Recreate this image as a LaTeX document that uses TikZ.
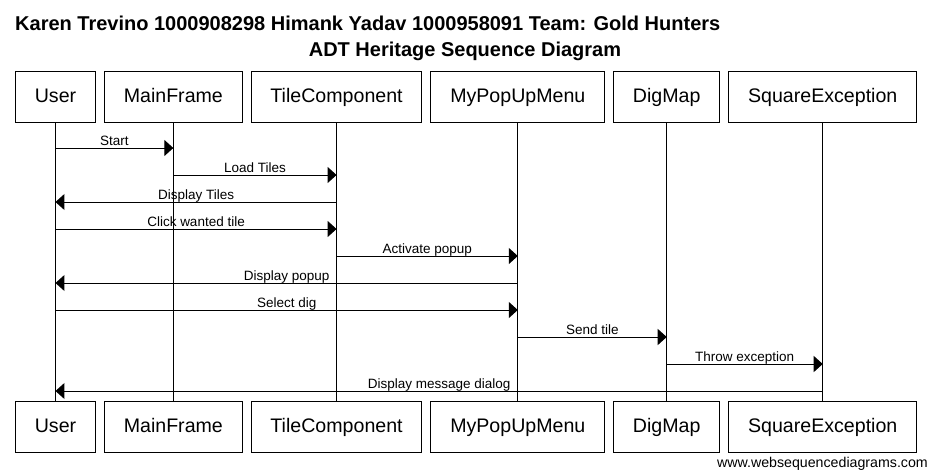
\documentclass[tikz,border=0pt]{standalone}
\usepackage{fontspec}
\setmainfont{Liberation Sans}
\usetikzlibrary{arrows.meta,positioning}

\tikzset{
  actor/.style={draw, line width=1pt, minimum height=51pt, inner xsep=19.3pt,
    text height=15pt, text depth=3pt, font=\fontsize{19.6}{22}\selectfont},
  life/.style={line width=1pt},
  msg/.style={line width=1pt, -{Triangle[length=9pt,width=16pt]}},
  msglabel/.style={anchor=base, yshift=3pt, inner sep=0pt, font=\fontsize{13.5}{15}\selectfont}
}

\begin{document}
\begin{tikzpicture}[x=1pt,y=-1pt,node distance=8pt]
  \useasboundingbox (0,0) rectangle (929,474);

  % title
  \node[anchor=base west, inner sep=0pt, font=\bfseries\fontsize{20}{24}\selectfont] (title) at (15,30)
    {Karen Trevino 1000908298 Himank Yadav 1000958091 Team: Gold Hunters};
  \node[anchor=base, inner sep=0pt, font=\bfseries\fontsize{20}{24}\selectfont] (subtitle) at (465,56)
    {ADT Heritage Sequence Diagram};

  % participants, top
  \node[actor, anchor=west] (user) at (15,96.5) {User};
  \node[actor] (main)  [right=of user]  {MainFrame};
  \node[actor] (tile)  [right=of main]  {TileComponent};
  \node[actor] (popup) [right=of tile]  {MyPopUpMenu};
  \node[actor] (dig)   [right=of popup] {DigMap};
  \node[actor] (sqex)  [right=of dig]   {SquareException};

  % participants, bottom
  \node[actor, anchor=west] (user-b) at (15,426.5) {User};
  \node[actor] (main-b)  [right=of user-b]  {MainFrame};
  \node[actor] (tile-b)  [right=of main-b]  {TileComponent};
  \node[actor] (popup-b) [right=of tile-b]  {MyPopUpMenu};
  \node[actor] (dig-b)   [right=of popup-b] {DigMap};
  \node[actor] (sqex-b)  [right=of dig-b]   {SquareException};

  % lifelines
  \foreach \n in {user,main,tile,popup,dig,sqex}
    \draw[life] (\n.south) -- (\n-b.north);

  % messages
  \foreach \y/\a/\b/\t in {148/user/main/Start, 175/main/tile/Load Tiles,
      202/tile/user/Display Tiles, 229/user/tile/Click wanted tile,
      256/tile/popup/Activate popup, 283/popup/user/Display popup,
      310/user/popup/Select dig, 337/popup/dig/Send tile,
      364/dig/sqex/Throw exception, 391/sqex/user/Display message dialog}
    \draw[msg] (\a |- 0,\y) -- (\b |- 0,\y) node[midway, msglabel] {\t};

  \node[anchor=base east, inner sep=0pt, font=\fontsize{14.2}{16}\selectfont] (credit) at (928,467)
    {www.websequencediagrams.com};
\end{tikzpicture}
\end{document}
